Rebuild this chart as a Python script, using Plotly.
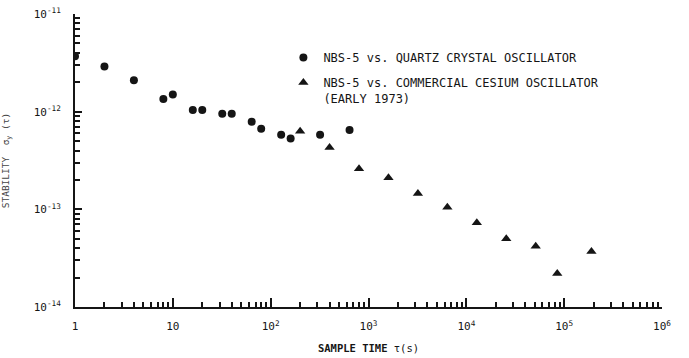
import plotly.graph_objects as go

# Data (tau in seconds, Allan deviation)
quartz_tau = [1, 2, 4, 8, 10, 16, 20, 32, 40, 64, 80, 128, 160, 320, 640]
quartz_sigma = [3.7e-12, 2.9e-12, 2.1e-12, 1.35e-12, 1.5e-12, 1.04e-12, 1.04e-12,
                9.5e-13, 9.5e-13, 7.9e-13, 6.7e-13, 5.8e-13, 5.3e-13, 5.8e-13, 6.5e-13]

cesium_tau = [200, 400, 800, 1600, 3200, 6400, 12800, 25600, 51200, 85000, 190000]
cesium_sigma = [6.3e-13, 4.3e-13, 2.6e-13, 2.1e-13, 1.45e-13, 1.05e-13, 7.3e-14,
                5.0e-14, 4.2e-14, 2.2e-14, 3.7e-14]

x_tickvals = [1, 10, 100, 1e3, 1e4, 1e5, 1e6]
x_ticktext = ["1", "10", "10<sup>2</sup>", "10<sup>3</sup>", "10<sup>4</sup>",
              "10<sup>5</sup>", "10<sup>6</sup>"]
y_tickvals = [1e-14, 1e-13, 1e-12, 1e-11]
y_ticktext = ["10<sup>-14</sup>", "10<sup>-13</sup>", "10<sup>-12</sup>", "10<sup>-11</sup>"]

quartz_name = "NBS-5 vs. QUARTZ CRYSTAL OSCILLATOR"
cesium_name = "NBS-5 vs. COMMERCIAL CESIUM OSCILLATOR<br>(EARLY 1973)"

ink = "#151515"
font_main = "DejaVu Sans Mono"

x_minor = [m * 10 ** k for k in range(0, 6) for m in range(2, 10)]
y_minor = [m * 10.0 ** k for k in range(-14, -11) for m in range(2, 10)]

fig = go.Figure()
fig.add_trace(go.Scatter(
    x=quartz_tau, y=quartz_sigma, mode="markers", name=quartz_name,
    marker=dict(symbol="circle", size=8, color=ink), legendgroup="a"))
fig.add_trace(go.Scatter(
    x=cesium_tau, y=cesium_sigma, mode="markers", name=cesium_name,
    marker=dict(symbol="triangle-up", size=9, color=ink), legendgroup="b"))

fig.update_layout(
    width=689, height=358,
    margin=dict(l=75, r=27, t=14, b=51),
    paper_bgcolor="white", plot_bgcolor="white",
    font=dict(family=font_main, size=11, color=ink),
    showlegend=True,
    legend=dict(x=0.355, y=0.90, xanchor="left", yanchor="top", valign="top",
                bgcolor="rgba(0,0,0,0)", font=dict(size=12, family=font_main),
                traceorder="grouped", tracegroupgap=6),
    xaxis=dict(type="log", range=[0, 6], showline=True, linecolor=ink, linewidth=2,
               showgrid=False, zeroline=False, mirror=False, automargin=False,
               tickmode="array", tickvals=x_tickvals, ticktext=x_ticktext,
               ticks="inside", ticklen=9, tickwidth=2, tickcolor=ink,
               ticklabelstandoff=8,
               tickfont=dict(size=11, family=font_main),
               minor=dict(tickmode="array", tickvals=x_minor, ticks="inside",
                          ticklen=5, tickwidth=1.5, tickcolor=ink, showgrid=False),
               title=dict(text="<b>SAMPLE TIME</b> τ(s)", standoff=12,
                          font=dict(size=10.5, family=font_main))),
    yaxis=dict(type="log", range=[-14, -11], showline=True, linecolor=ink, linewidth=2,
               showgrid=False, zeroline=False, mirror=False, automargin=False,
               tickmode="array", tickvals=y_tickvals, ticktext=y_ticktext,
               ticks="inside", ticklen=7, tickwidth=2, tickcolor=ink,
               ticklabelstandoff=10,
               tickfont=dict(size=11, family=font_main),
               minor=dict(tickmode="array", tickvals=y_minor, ticks="inside",
                          ticklen=5, tickwidth=1.5, tickcolor=ink, showgrid=False),
               title=dict(text="STABILITY  σ<sub>y</sub> (τ)", standoff=22,
                          font=dict(size=9.5, family=font_main, color="#444"))),
)

fig.write_html("out.html")
